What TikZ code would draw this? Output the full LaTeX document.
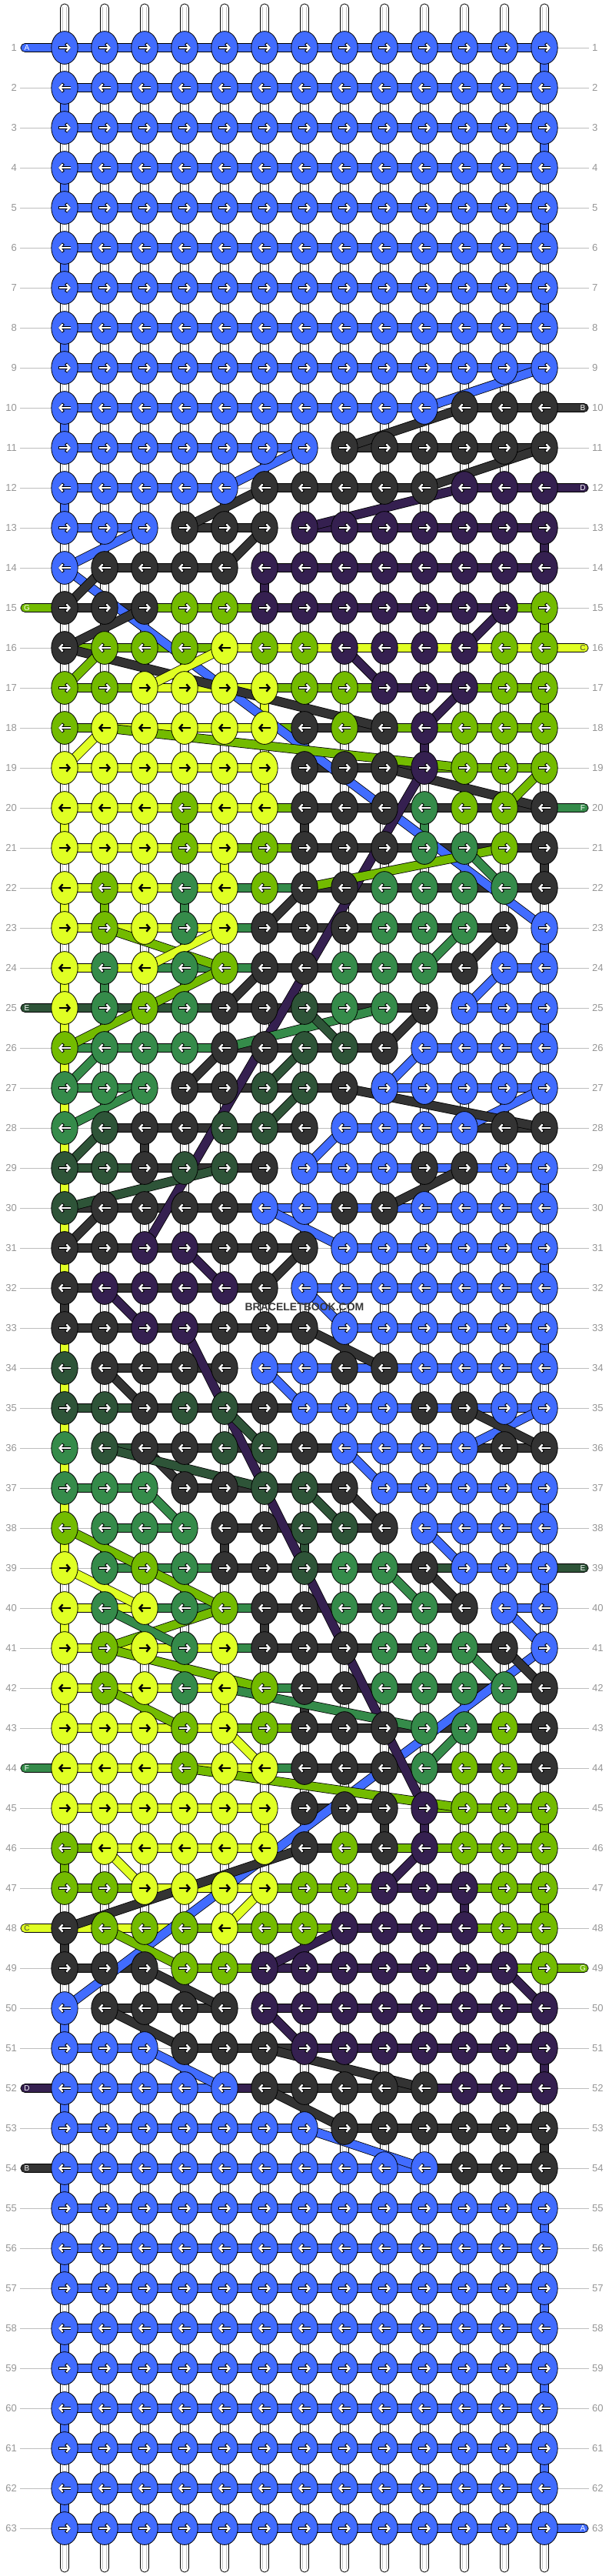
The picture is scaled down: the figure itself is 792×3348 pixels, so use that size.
\documentclass[tikz,border=0pt]{standalone}
\usepackage{fontspec}
\setmainfont{Liberation Sans}
\usetikzlibrary{arrows.meta}
\definecolor{cB}{RGB}{65,108,255}
\definecolor{cK}{RGB}{51,51,51}
\definecolor{cP}{RGB}{53,32,80}
\definecolor{cL}{RGB}{115,187,0}
\definecolor{cY}{RGB}{224,255,36}
\definecolor{cG}{RGB}{53,139,74}
\definecolor{cD}{RGB}{46,84,56}
\definecolor{gridc}{RGB}{190,190,190}
\definecolor{lblc}{RGB}{150,150,150}
\newcommand\setrow[3]{\expandafter\gdef\csname kn#1\endcsname{#2}\expandafter\gdef\csname bd#1\endcsname{#3}}
\setrow{10}{B,B,B,B,B,B,B,B,B,B,K,K,K}{B,B,B,B,B,B,B,B,B,N,K,K}
\setrow{11}{B,B,B,B,B,B,B,K,K,K,K,K,K}{B,B,B,B,B,B,N,K,K,K,K,K}
\setrow{12}{B,B,B,B,B,K,K,K,K,K,P,P,P}{B,B,B,B,N,K,K,K,K,N,P,P}
\setrow{13}{B,B,B,K,K,K,P,P,P,P,P,P,P}{B,B,N,K,K,N,P,P,P,P,P,P}
\setrow{14}{B,K,K,K,K,P,P,P,P,P,P,P,P}{N,K,K,K,N,P,P,P,P,P,P,P}
\setrow{15}{K,K,K,L,L,P,P,P,P,P,P,P,L}{K,K,L,L,L,P,P,P,P,P,P,L}
\setrow{16}{K,L,L,L,Y,L,L,P,P,P,P,L,L}{L,L,L,L,Y,Y,Y,Y,Y,Y,Y,Y}
\setrow{17}{L,L,Y,Y,Y,Y,L,L,P,P,P,L,L}{L,L,Y,Y,Y,L,L,L,P,P,L,L}
\setrow{18}{L,Y,Y,Y,Y,Y,K,L,K,P,L,L,L}{L,Y,Y,Y,Y,L,K,K,L,L,L,L}
\setrow{19}{Y,Y,Y,Y,Y,Y,K,K,K,P,L,L,L}{Y,Y,Y,Y,Y,N,K,K,K,L,L,L}
\setrow{20}{Y,Y,Y,L,Y,Y,K,K,K,G,L,L,K}{Y,Y,Y,Y,Y,L,K,K,K,K,K,K}
\setrow{21}{Y,Y,Y,L,Y,L,K,K,K,G,G,L,K}{Y,Y,Y,Y,L,L,K,K,K,K,K,K}
\setrow{22}{Y,L,Y,G,Y,L,K,K,G,G,G,G,K}{Y,Y,Y,Y,G,G,K,K,K,K,K,K}
\setrow{23}{Y,L,Y,G,Y,K,K,K,G,G,G,K,B}{Y,Y,Y,Y,G,K,K,K,K,K,K,N}
\setrow{24}{Y,G,Y,G,L,K,K,G,G,G,K,B,B}{Y,Y,G,G,G,K,K,K,K,K,N,B}
\setrow{25}{Y,G,L,G,K,K,D,G,G,K,B,B,B}{D,D,D,D,K,K,K,K,K,N,B,B}
\setrow{26}{L,G,G,G,K,K,D,D,K,B,B,B,B}{G,G,G,G,K,K,K,K,N,B,B,B}
\setrow{27}{G,G,G,K,K,D,D,K,B,B,B,B,B}{G,G,N,K,K,K,K,N,B,B,B,B}
\setrow{28}{G,D,K,K,D,D,K,B,B,B,B,K,K}{N,K,K,K,K,K,N,B,B,B,K,K}
\setrow{29}{D,D,K,D,D,K,B,B,B,K,K,B,B}{D,D,K,K,K,N,B,B,B,B,B,B}
\setrow{30}{D,K,K,K,K,B,B,K,K,B,B,B,B}{K,K,K,K,K,B,B,B,B,B,B,B}
\setrow{31}{K,K,P,P,K,K,K,B,B,B,B,B,B}{K,K,K,K,K,K,N,B,B,B,B,B}
\setrow{32}{K,P,P,P,P,K,B,B,B,B,B,B,B}{K,K,K,K,K,N,B,B,B,B,B,B}
\setrow{33}{K,K,P,P,K,K,K,B,B,B,B,B,B}{K,K,K,K,K,K,N,B,B,B,B,B}
\setrow{34}{D,K,K,K,K,B,B,K,K,B,B,B,B}{N,K,K,K,N,B,B,B,B,B,B,B}
\setrow{35}{D,D,K,D,D,K,B,B,B,K,K,B,B}{D,D,K,K,K,K,B,B,B,B,B,B}
\setrow{36}{G,D,K,K,D,D,K,B,B,B,B,K,K}{N,D,K,K,K,K,K,B,B,B,K,K}
\setrow{37}{G,G,G,K,K,D,D,K,B,B,B,B,B}{G,G,N,K,K,K,K,N,B,B,B,B}
\setrow{38}{L,G,G,G,K,K,D,D,K,B,B,B,B}{N,G,G,N,K,K,K,K,N,B,B,B}
\setrow{39}{Y,G,L,G,K,K,D,G,G,K,B,B,B}{N,G,G,G,K,K,K,K,K,D,B,B}
\setrow{40}{Y,G,Y,G,L,K,K,G,G,G,K,B,B}{Y,Y,G,G,G,K,K,K,K,K,N,B}
\setrow{41}{Y,L,Y,G,Y,K,K,K,G,G,G,K,B}{Y,Y,Y,Y,G,K,K,K,K,K,K,N}
\setrow{42}{Y,L,Y,G,Y,L,K,K,G,G,G,G,K}{Y,Y,Y,Y,G,G,K,K,K,K,K,K}
\setrow{43}{Y,Y,Y,L,Y,L,K,K,K,G,G,L,K}{Y,Y,Y,Y,L,L,K,K,K,K,K,K}
\setrow{44}{Y,Y,Y,L,Y,Y,K,K,K,G,L,L,K}{Y,Y,Y,Y,Y,G,K,K,K,K,K,K}
\setrow{45}{Y,Y,Y,Y,Y,Y,K,K,K,P,L,L,L}{Y,Y,Y,Y,Y,N,K,K,N,L,L,L}
\setrow{46}{L,Y,Y,Y,Y,Y,K,L,K,P,L,L,L}{L,Y,Y,Y,Y,N,K,K,L,L,L,L}
\setrow{47}{L,L,Y,Y,Y,Y,L,L,P,P,P,L,L}{L,L,Y,Y,Y,L,L,L,P,P,L,L}
\setrow{48}{K,L,L,L,Y,L,L,P,P,P,P,L,L}{Y,Y,Y,L,L,L,L,P,P,P,L,L}
\setrow{49}{K,K,K,L,L,P,P,P,P,P,P,P,L}{K,K,N,L,L,P,P,P,P,P,P,L}
\setrow{50}{B,K,K,K,K,P,P,P,P,P,P,P,P}{N,K,K,K,N,P,P,P,P,P,P,P}
\setrow{51}{B,B,B,K,K,K,P,P,P,P,P,P,P}{B,B,N,K,K,K,P,P,P,P,P,P}
\setrow{52}{B,B,B,B,B,K,K,K,K,K,P,P,P}{B,B,B,B,P,K,K,K,K,P,P,P}
\setrow{53}{B,B,B,B,B,B,B,K,K,K,K,K,K}{B,B,B,B,B,B,N,K,K,K,K,K}
\setrow{54}{B,B,B,B,B,B,B,B,B,B,K,K,K}{B,B,B,B,B,B,B,B,B,K,K,K}
\def\NN{N}
\def\YY{Y}
\begin{document}
\begin{tikzpicture}[x=1pt,y=-1pt,
  gridl/.style={draw=gridc,line width=0.9pt},
  lbl/.style={text=lblc,font=\fontsize{13}{13}\selectfont,inner sep=0pt},
  tubel/.style={draw=black!22,line width=0.7pt},
  bnd/.style={fill=c#1,draw=black,line width=0.7pt},
  knot/.style={draw=black,line width=0.8pt},
  dgo/.style={draw=black,line width=12.2pt},
  dg/.style={draw=c#1,line width=10.6pt},
  arrw/.style={line width=2.4pt,-{Straight Barb[length=4pt,width=9.4pt]}},
  arro/.style={draw=black,line width=3.8pt,-{Straight Barb[length=4.4pt,width=10.8pt]}},
  tabl/.style={font=\fontsize{10}{10}\selectfont,inner sep=0pt},
  wmark/.style={font=\bfseries\fontsize{14}{14}\selectfont,text=black!78,inner sep=0pt}]
\useasboundingbox (0,0) rectangle (792,3348);
\fill[white] (0,0) rectangle (792,3348);
% guide lines and row numbers
\foreach \r in {1,...,63}{
  \draw[gridl] (26,10+52*\r) -- (766,10+52*\r);
  \node[lbl,anchor=east] (nl\r) at (22,10+52*\r) {\r};
  \node[lbl,anchor=west] (nr\r) at (770,10+52*\r) {\r};
}
% white base strings
\foreach \c in {1,...,13}{
  \draw[fill=white,line width=0.8pt,rounded corners=5.4pt] (32+52*\c-5.5,5) rectangle (32+52*\c+5.5,3343);
  \draw[tubel] (32+52*\c-2.2,9) -- (32+52*\c-2.2,3339);
  \draw[tubel] (32+52*\c+2.2,9) -- (32+52*\c+2.2,3339);
}
% string ends (tabs)
\foreach \r/\cl/\lt/\tc in {1/B/A/white,15/L/G/white,25/D/E/white,44/G/F/white,48/Y/C/black!75,52/P/D/white,54/K/B/white}{
  \path[bnd=\cl,rounded corners=5.4pt] (27,4.5+52*\r) rectangle (80,15.5+52*\r);
  \node[tabl,text=\tc] (tl\r) at (35,10.5+52*\r) {\lt};
}
\foreach \r/\cl/\lt/\tc in {10/K/B/white,12/P/D/white,16/Y/C/black!75,20/G/F/white,39/D/E/white,49/L/G/white,63/B/A/white}{
  \path[bnd=\cl,rounded corners=5.4pt] (712,4.5+52*\r) rectangle (765,15.5+52*\r);
  \node[tabl,text=\tc] (tr\r) at (758,10.5+52*\r) {\lt};
}
% horizontal bands
\foreach \r in {1,...,63}{
  \ifcsname bd\r\endcsname \edef\blist{\csname bd\r\endcsname}\else\def\blist{B,B,B,B,B,B,B,B,B,B,B,B}\fi
  \foreach \b [count=\i] in \blist {\ifx\b\NN\else\path[bnd=\b] (32+52*\i,4.5+52*\r) rectangle (84+52*\i,15.5+52*\r);\fi}
}
% vertical coloured segments
\foreach \r/\c/\cl in {1/13/B,2/1/B,3/13/B,4/1/B,5/13/B,6/1/B,7/13/B,8/1/B,
  10/1/B,12/1/B,13/13/P,14/6/P,15/13/L,
  17/6/Y,17/13/L,18/10/P,19/6/Y,20/1/Y,20/4/L,20/7/K,20/10/G,21/5/Y,21/13/K,22/1/Y,22/2/L,22/4/G,
  23/13/B,24/1/Y,24/2/G,25/1/Y,25/13/B,26/1/Y,27/1/Y,28/1/Y,28/3/K,29/1/Y,29/13/B,30/1/Y,31/1/Y,31/13/B,
  32/1/K,33/1/Y,33/13/B,34/1/Y,35/1/Y,36/1/Y,37/1/Y,37/13/B,38/1/Y,38/2/G,38/5/K,38/7/D,39/13/B,
  40/1/Y,40/6/K,42/1/Y,42/5/Y,42/7/K,45/6/Y,45/9/K,45/10/P,45/13/L,46/1/L,47/11/P,47/13/L,48/1/K,
  50/1/B,51/13/P,52/1/B,53/13/K,54/1/B,55/13/B,56/1/B,57/13/B,58/1/B,59/13/B,60/1/B,61/13/B,62/1/B}{
  \path[bnd=\cl] (32+52*\c-5.5,10+52*\r) rectangle (32+52*\c+5.5,62+52*\r);
}
% diagonal string paths
\foreach \cl/\ra/\ca/\rb/\cb in {
  B/9/13/10/10,B/11/7/12/5,B/13/3/14/1,B/14/1/23/13,B/24/12/25/11,B/26/10/27/9,B/27/13/28/11,B/28/8/29/7,
  B/30/6/31/8,B/32/7/33/8,B/34/6/35/7,B/35/13/36/11,B/36/8/37/9,B/38/10/39/11,B/40/12/41/13,B/41/13/50/1,
  B/51/3/52/5,B/53/7/54/10,
  K/10/11/11/8,K/11/13/12/10,K/12/6/13/4,K/13/6/14/5,K/14/2/15/1,K/15/3/16/1,K/16/1/18/9,K/19/9/20/13,
  K/22/7/23/6,K/23/12/24/11,K/24/6/25/5,K/25/10/26/9,K/26/5/27/4,K/27/8/28/13,K/29/11/30/9,K/30/2/31/1,
  K/31/7/32/6,K/33/7/34/9,K/34/2/35/3,K/35/11/36/13,K/36/3/37/4,K/37/8/38/9,K/39/10/40/11,K/41/12/42/13,
  K/46/7/48/1,K/49/3/50/5,K/50/2/51/4,K/51/6/52/10,K/52/6/53/8,
  P/12/11/13/7,P/15/12/16/11,P/16/8/17/9,P/17/11/18/10,P/19/10/31/3,P/31/4/32/5,P/32/2/33/3,P/33/4/45/10,
  P/46/10/47/9,P/48/8/49/6,P/49/12/50/13,P/50/6/51/7,
  L/16/2/17/1,L/18/2/19/11,L/19/13/20/12,L/21/12/22/7,L/23/2/24/5,L/24/5/25/3,L/25/3/26/1,L/38/1/39/3,
  L/39/3/40/5,L/40/5/41/2,L/41/2/42/6,L/42/2/43/4,L/44/4/45/11,L/48/2/49/4,
  Y/16/5/17/3,Y/18/2/19/1,Y/23/5/24/3,Y/39/1/40/3,Y/43/5/44/6,Y/46/2/47/3,Y/47/6/48/5,
  G/21/11/22/12,G/23/11/24/10,G/25/9/26/5,G/26/2/27/1,G/27/3/28/1,G/37/3/38/4,G/39/9/40/10,G/40/2/41/4,
  G/41/11/42/12,G/42/5/43/10,G/43/11/44/10,
  D/25/7/26/8,D/26/7/27/6,D/27/7/28/6,D/28/2/29/1,D/29/5/30/1,D/35/5/36/6,D/36/2/37/6,D/37/7/38/8}{
  \draw[dgo] (32+52*\ca,10+52*\ra) -- (32+52*\cb,10+52*\rb);
  \draw[dg=\cl] (32+52*\ca,10+52*\ra) -- (32+52*\cb,10+52*\rb);
}
% knots
\foreach \r in {1,...,63}{
  \ifcsname kn\r\endcsname \edef\klist{\csname kn\r\endcsname}\else\def\klist{B,B,B,B,B,B,B,B,B,B,B,B,B}\fi
  \ifodd\r \def\ad{1}\else\def\ad{-1}\fi
  \foreach \k [count=\i] in \klist {
    \path[knot,fill=c\k] (32+52*\i,10+52*\r) ellipse [x radius=17.2pt,y radius=21.4pt];
    \ifx\k\YY
      \draw[arrw,draw=black] (32+52*\i-7.5*\ad,10+52*\r) -- (32+52*\i+8*\ad,10+52*\r);
    \else
      \draw[arro] (32+52*\i-8.1*\ad,10+52*\r) -- (32+52*\i+8.4*\ad,10+52*\r);
      \draw[arrw,draw=white] (32+52*\i-7.5*\ad,10+52*\r) -- (32+52*\i+8*\ad,10+52*\r);
    \fi
  }
}
\node[wmark] (wm) at (396,1699) {BRACELETBOOK.COM};
\end{tikzpicture}
\end{document}
